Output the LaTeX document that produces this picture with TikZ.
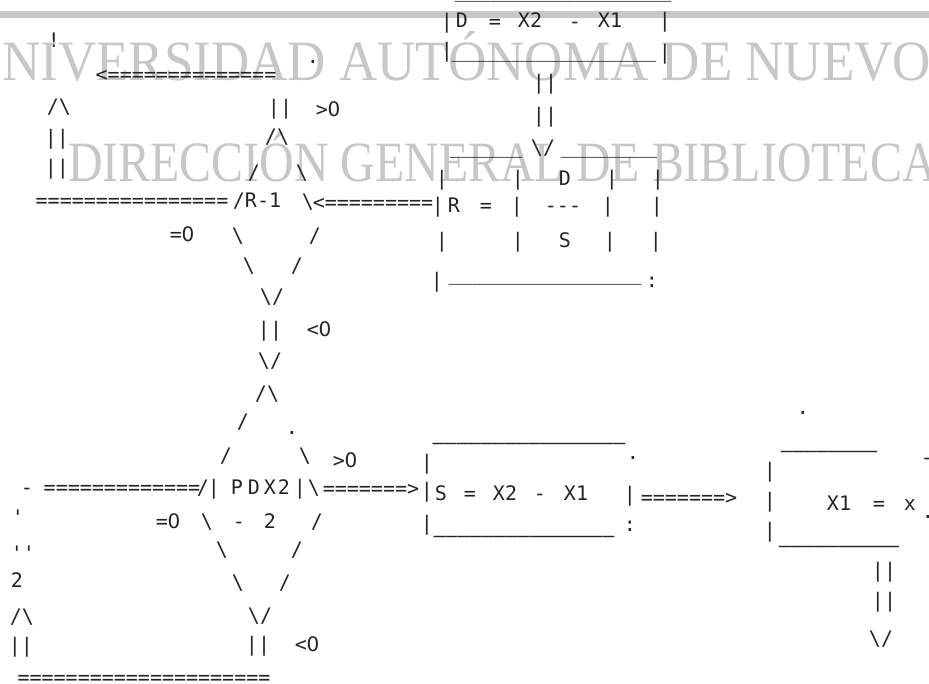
\documentclass[tikz,border=0pt]{standalone}
\usepackage{fontspec}
\setmainfont{Liberation Serif}
\setmonofont{DejaVu Sans Mono}
\newfontfamily\zerofont{DejaVu Sans}
\ExplSyntaxOn
\cs_new:Npn \Rpt #1#2 { \prg_replicate:nn {#1} {#2} }
\ExplSyntaxOff
\newcommand\bsl{\textbackslash}
\newcommand\hy{-\kern0pt}
\newcommand\zr{\makebox[0.602em]{\zerofont 0}}
\definecolor{wm}{gray}{0.78}
\definecolor{ink}{gray}{0.14}
\tikzset{
  asc/.style={font=\ttfamily\fontsize{20}{20}\selectfont, text=ink, inner sep=0pt,
              text height=14.6pt, text depth=0pt, anchor=center},
  wmark/.style={font=\fontsize{57}{57}\selectfont, text=wm, inner sep=0pt, anchor=base west}
}
\newcommand\T[4]{\node[asc] (#1) at (#2,#3) {#4};}
\begin{document}
\begin{tikzpicture}[x=1pt,y=-1pt]
\path[use as bounding box] (0,0) rectangle (929,684);
\clip (0,0) rectangle (929,684);
\fill[white] (0,0) rectangle (929,684);
% scan background marks
\fill[wm] (0,11) rectangle (929,18);
\node[wmark] (w1) at (2,81) {\scalebox{0.93}[1]{NIVERSIDAD AUTÓNOMA DE NUEVO}};
\node[wmark] (w2) at (68,182) {\scalebox{0.84}[1]{DIRECCIÓN GENERAL DE BIBLIOTECA}};
% ---- box D = X2 - X1
\T{d0}{563}{-9.5}{\Rpt{18}{\_}}
\T{d1}{447}{21}{|}
\T{d2}{462}{20}{D}
\T{d3}{495}{21}{=}
\T{d4}{530}{20}{X2}
\T{d5}{575}{21}{\hy}
\T{d6}{610}{20}{X1}
\T{d7}{665}{20}{|}
\T{d8}{447}{50}{|}
\T{d9}{554}{50.5}{\Rpt{17}{\_}}
\T{d10}{665}{52}{|}
\T{a1}{545}{82}{||}
\T{a2}{545}{115}{||}
\T{a3}{543}{147}{\bsl/}
% ---- box R = D / S
\T{r0}{486}{146.5}{\Rpt{6}{\_}}
\T{r1}{609}{146.5}{\Rpt{8}{\_}}
\T{r2}{442}{178}{|}
\T{r3}{518}{178}{|}
\T{r4}{565}{178}{D}
\T{r5}{612}{178}{|}
\T{r6}{658}{178}{|}
\T{r7}{438}{205}{|}
\T{r8}{454}{205}{R}
\T{r9}{486}{205}{=}
\T{r10}{517}{205}{|}
\T{r11}{563}{205}{\Rpt{3}{\hy}}
\T{r12}{608}{205}{|}
\T{r13}{657}{205}{|}
\T{r14}{442}{240}{|}
\T{r15}{518}{240}{|}
\T{r16}{565}{240}{S}
\T{r17}{610}{240}{|}
\T{r18}{656}{240}{|}
\T{r19}{437}{280}{|}
\T{r20}{545}{273.5}{\Rpt{16}{\_}}
\T{r21}{652}{280}{:}
% ---- upper left loop
\T{l1}{54}{40}{!}
\T{l2}{186}{74}{<\Rpt{14}{=}}
\T{l3}{313}{56}{.}
\T{l4}{59}{106}{/\bsl}
\T{l5}{280}{107}{||}
\T{l6}{328}{109}{>\zr}
\T{l7}{57}{137}{||}
\T{l8}{277}{136}{/\bsl}
\T{l9}{57}{167}{||}
\T{l10}{254}{172}{/}
\T{l11}{302}{172}{\bsl}
% ---- decision R-1
\T{m1}{132}{200}{\Rpt{16}{=}}
\T{m2}{257}{200}{/R\hy 1}
\T{m3}{308}{201}{\bsl}
\T{m4}{373}{202}{<\Rpt{9}{=}}
\T{m5}{182}{234}{=\zr}
\T{m6}{238}{235}{\bsl}
\T{m7}{315}{235}{/}
\T{m8}{249}{265}{\bsl}
\T{m9}{297}{265}{/}
\T{m10}{272}{296}{\bsl/}
\T{m11}{270}{329}{||}
\T{m12}{319}{329}{<\zr}
\T{m13}{270}{360}{\bsl/}
% ---- decision |PDX2| - 2
\T{p1}{267}{393}{/\bsl}
\T{p2}{243}{421}{/}
\T{p3}{292}{427}{.}
\T{p4}{226}{455}{/}
\T{p5}{305}{455}{\bsl}
\T{p6}{345}{460}{>\zr}
\T{p7}{27}{487}{\hy}
\T{p8}{122}{487}{\Rpt{13}{=}}
\T{p9}{203}{487}{/}
\T{p10}{214}{487}{|}
\T{p11}{237}{487}{P}
\T{p12}{254}{487}{D}
\T{p13}{270}{487}{X}
\T{p14}{284}{487}{2}
\T{p15}{300}{487}{|}
\T{p16}{314}{487}{\bsl}
\T{p17}{371}{488}{\Rpt{7}{=}>}
\T{p18}{168}{521}{=\zr}
\T{p19}{207}{521}{\bsl}
\T{p20}{239}{521}{\hy}
\T{p21}{270}{521}{2}
\T{p22}{317}{521}{/}
\T{p23}{222}{549}{\bsl}
\T{p24}{297}{549}{/}
\T{p25}{238}{582}{\bsl}
\T{p26}{285}{582}{/}
\T{p27}{260}{615}{\bsl/}
\T{p28}{258}{644}{||}
\T{p29}{307}{644}{<\zr}
% ---- lower left loop
\T{b1}{18}{517}{'}
\T{b2}{23}{553}{''}
\T{b3}{17}{580}{2}
\T{b4}{22}{616}{/\bsl}
\T{b5}{21}{645}{||}
\T{b6}{144}{677}{\Rpt{21}{=}}
% ---- box S = X2 - X1
\T{s0}{529}{442}{\Rpt{16}{\textendash}}
\T{s1}{633}{452}{.}
\T{s2}{427}{462}{|}
\T{s3}{427}{490}{|}
\T{s4}{427}{523}{|}
\T{s5}{441}{493}{S}
\T{s6}{470}{493}{=}
\T{s7}{505}{493}{X2}
\T{s8}{540}{493}{\hy}
\T{s9}{576}{493}{X1}
\T{s10}{630}{494}{|}
\T{s11}{524}{535}{\Rpt{15}{\textendash}}
\T{s12}{630}{524}{:}
\T{s13}{689}{497}{\Rpt{7}{=}>}
% ---- box X1 = x
\T{x0}{829}{450}{\Rpt{8}{\textendash}}
\T{x1}{927}{457}{\hy}
\T{x2}{803}{407}{.}
\T{x3}{770}{470}{|}
\T{x4}{770}{500}{|}
\T{x5}{770}{530}{|}
\T{x6}{839}{503}{X1}
\T{x7}{879}{503}{=}
\T{x8}{910}{503}{x}
\T{x9}{928}{511}{.}
\T{x10}{839}{545}{\Rpt{10}{\textendash}}
\T{x11}{884}{570}{||}
\T{x12}{884}{600}{||}
\T{x13}{881}{638}{\bsl/}
\end{tikzpicture}
\end{document}
